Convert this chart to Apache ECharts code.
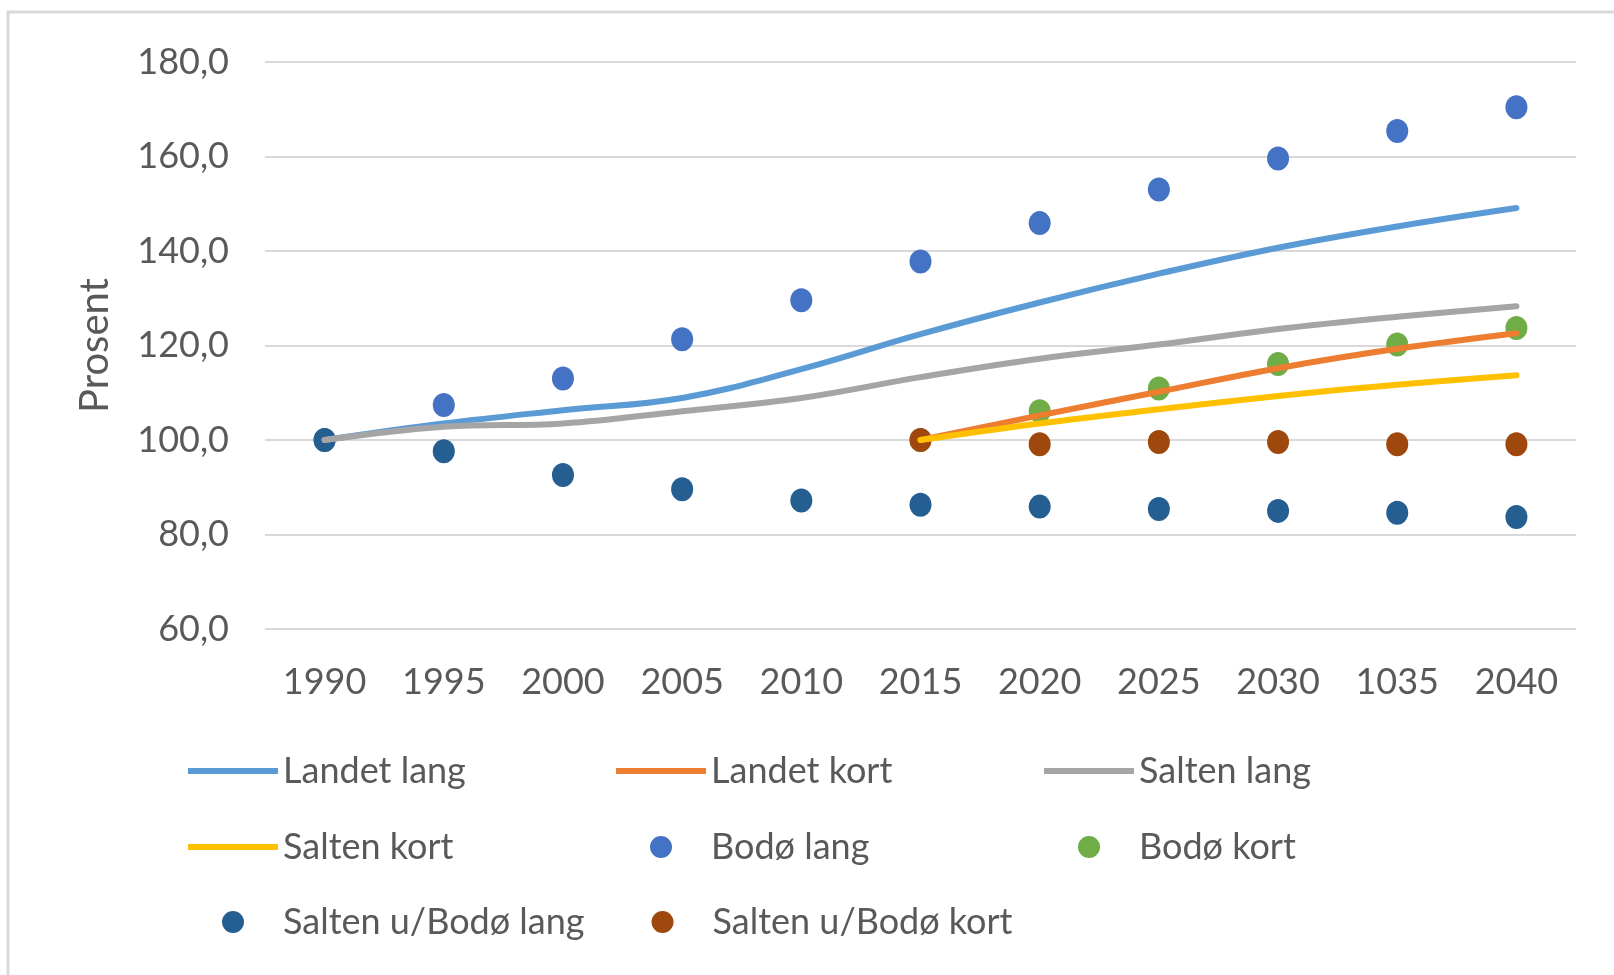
<!DOCTYPE html>
<html>
<head>
<meta charset="utf-8">
<style>
html,body{margin:0;padding:0;background:#fff;}
#chart{width:1614px;height:975px;}
</style>
<script src="https://cdn.jsdelivr.net/npm/echarts@6/dist/echarts.min.js"></script>
</head>
<body>
<div id="chart"></div>
<script>
const years = ['1990','1995','2000','2005','2010','2015','2020','2025','2030','1035','2040'];
const yTicks = { min: 60, max: 180, interval: 20 };

const landetLang   = [100, 103.5, 106.3, 108.9, 115.0, 122.4, 129.1, 135.2, 140.7, 145.2, 149.1];
const landetKort   = [null, null, null, null, null, 100, 105.2, 110.2, 115.2, 119.3, 122.6];
const saltenLang   = [100, 102.8, 103.5, 106.1, 108.9, 113.3, 117.2, 120.2, 123.5, 126.1, 128.3];
const saltenKort   = [null, null, null, null, null, 100, 103.5, 106.5, 109.3, 111.7, 113.7];
const bodoLang     = [100, 107.4, 113.0, 121.3, 129.6, 137.8, 145.9, 153.0, 159.6, 165.4, 170.4];
const bodoKort     = [null, null, null, null, null, 100, 106.1, 110.9, 116.1, 120.2, 123.7];
const saltenUBLang = [100, 97.6, 92.6, 89.6, 87.2, 86.3, 85.9, 85.4, 85.0, 84.6, 83.7];
const saltenUBKort = [null, null, null, null, null, 100, 99.1, 99.6, 99.6, 99.1, 99.1];

const lineNames = ['Landet lang', 'Landet kort', 'Salten lang', 'Salten kort'];

const FONT = 'Lato';
const TXT = '#595959';

function lineSeries(name, data, color) {
  return { name, type: 'line', data, symbol: 'none', smooth: 0.4, connectNulls: false,
    lineStyle: { color, width: 6, cap: 'round' }, itemStyle: { color } };
}
function dotSeries(name, data, color) {
  return { name, type: 'scatter', data, symbol: 'circle', symbolSize: [22, 24],
    itemStyle: { color, opacity: 1 } };
}

const LINE_ICON = 'path://M0,0 L90,0 L90,6 L0,6 Z';
// full-width icon box (anchors at both ends) so the dot sits centred in the 90px slot
const DOT_ICON = 'path://M0,11 L0.01,11 M90,11 L89.99,11 M45,0 A11,11 0 1,1 45,22 A11,11 0 1,1 45,0 Z';
const legendText = { fontFamily: FONT, fontSize: 36, color: TXT, width: 300, lineHeight: 40 };
function legendRow(names, top) {
  return {
    data: names.map(n => ({ name: n, icon: lineNames.includes(n) ? LINE_ICON : DOT_ICON })),
    left: 183, top, orient: 'horizontal', itemWidth: 90, itemHeight: 22,
    symbolKeepAspect: true, itemGap: 33, textStyle: legendText
  };
}

const chart = echarts.init(document.getElementById('chart'), null, { renderer: 'canvas' });
chart.setOption({
  animation: false,
  backgroundColor: '#fff',
  graphic: [{ type: 'rect', shape: { x: 8, y: 12, width: 1700, height: 1100 },
    style: { fill: 'none', stroke: '#d9d9d9', lineWidth: 3 }, silent: true }],
  grid: { left: 265, right: 38, top: 62, bottom: 346 },
  xAxis: {
    type: 'category', data: years, boundaryGap: true,
    axisLine: { show: false }, axisTick: { show: false },
    axisLabel: { fontFamily: FONT, fontSize: 36, color: TXT, margin: 35, interval: 0 }
  },
  yAxis: {
    type: 'value', min: yTicks.min, max: yTicks.max, interval: yTicks.interval,
    name: 'Prosent', nameLocation: 'middle', nameGap: 150, nameRotate: 90,
    nameTextStyle: { fontFamily: FONT, fontSize: 40, color: TXT },
    axisLine: { show: false }, axisTick: { show: false },
    splitLine: { lineStyle: { color: '#d9d9d9', width: 2 } },
    axisLabel: { fontFamily: FONT, fontSize: 36, color: TXT, margin: 36,
      formatter: v => v.toFixed(1).replace('.', ',') }
  },
  legend: [
    legendRow(['Landet lang', 'Landet kort', 'Salten lang'], 746),
    legendRow(['Salten kort', 'Bodø lang', 'Bodø kort'], 822),
    legendRow(['Salten u/Bodø lang', 'Salten u/Bodø kort'], 897)
  ],
  series: [
    lineSeries('Landet lang', landetLang, '#5B9BD5'),
    lineSeries('Landet kort', landetKort, '#ED7D31'),
    lineSeries('Salten lang', saltenLang, '#A5A5A5'),
    lineSeries('Salten kort', saltenKort, '#FFC000'),
    dotSeries('Bodø lang', bodoLang, '#4472C4'),
    dotSeries('Bodø kort', bodoKort, '#70AD47'),
    dotSeries('Salten u/Bodø lang', saltenUBLang, '#255E91'),
    dotSeries('Salten u/Bodø kort', saltenUBKort, '#9E480E')
  ]
});
</script>
</body>
</html>
